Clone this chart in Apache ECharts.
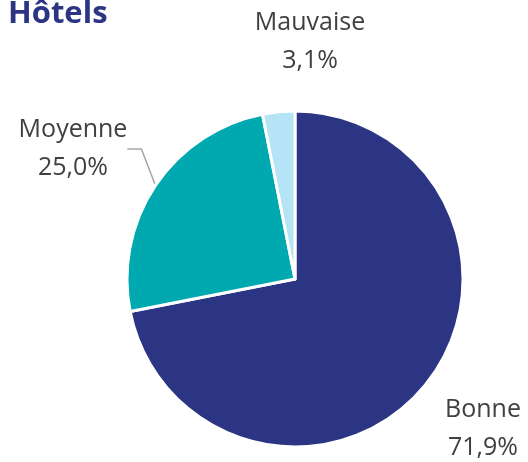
<!DOCTYPE html>
<html>
<head>
<meta charset="UTF-8">
<title>Hôtels</title>
<style>
  * { margin: 0; padding: 0; box-sizing: border-box; }
  body { width: 528px; height: 462px; background: #fff; overflow: hidden; }
  #chart { width: 528px; height: 462px; }
</style>
<script src="https://cdn.jsdelivr.net/npm/echarts@6/dist/echarts.min.js"></script>
</head>
<body>
<div id="chart"></div>
<script>
// 数据
const categories = ['Bonne', 'Moyenne', 'Mauvaise']
const values = [71.9, 25.0, 3.1]
const colors = ['#2b3584', '#00a9b0', '#b4e4f5']

// 标签位置（中心点）
const labelPos = {
  Bonne: [483, 429],
  Moyenne: [73, 149],
  Mauvaise: [310, 42]
}

const chart = echarts.init(document.getElementById('chart'))

const option = {
  backgroundColor: '#fff',
  animation: false,
  title: {
    text: 'Hôtels',
    left: 3,
    top: -6,
    textStyle: {
      fontFamily: 'Open Sans, sans-serif',
      fontWeight: 'bold',
      fontSize: 31,
      color: '#2b3584'
    }
  },
  series: [{
    type: 'pie',
    center: [295, 279],
    radius: 168,
    startAngle: 90,
    clockwise: true,
    itemStyle: {
      borderColor: '#fff',
      borderWidth: 3
    },
    label: {
      show: true,
      position: 'outside',
      overflow: 'none',
      edgeDistance: 0,
      formatter: p => p.name + '\n' + p.value.toFixed(1).replace('.', ',') + '%',
      fontFamily: 'Open Sans, sans-serif',
      fontSize: 25,
      lineHeight: 38,
      color: '#404040',
      align: 'center'
    },
    labelLine: {
      show: false,
      lineStyle: { color: '#a6a6a6', width: 1.5 }
    },
    labelLayout: params => {
      const name = categories[params.dataIndex]
      const pos = labelPos[name]
      return {
        x: pos[0],
        y: pos[1],
        align: 'center',
        verticalAlign: 'middle'
      }
    },
    data: categories.map((name, i) => ({
      name: name,
      value: values[i],
      itemStyle: { color: colors[i] },
      labelLine: { show: name === 'Moyenne', length: 12, length2: 14 }
    }))
  }]
}

chart.setOption(option)
</script>
</body>
</html>
